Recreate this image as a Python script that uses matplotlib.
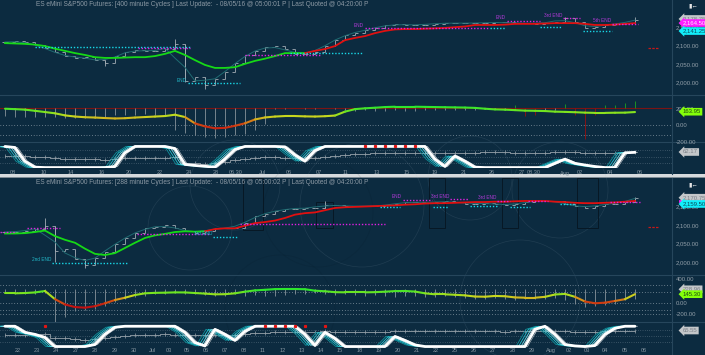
import numpy as np
import matplotlib.pyplot as plt
import matplotlib.transforms as mtransforms
from matplotlib.collections import LineCollection
from matplotlib.colors import LinearSegmentedColormap
from matplotlib.patches import Circle, Rectangle

plt.rcParams['font.family'] = ['Liberation Sans', 'DejaVu Sans']

BG = '#0c2b40'
W, H = 705, 355

# ---------------- top chart: 400 minute cycles (one value per bar) ----------------
top_title = ('ES eMini S&P500 Futures: [400 minute Cycles ] Last Update:  - 08/05/16 '
             '@ 05:00:01 P | Last Quoted @ 04:20:00 P')
top_close = [2110, 2112, 2110, 2102, 2093, 2082, 2071, 2068, 2069, 2062,
             2054, 2072, 2083, 2088, 2086, 2085, 2090, 2104, 2005, 2016,
             1994, 2010, 2028, 2053, 2074, 2086, 2097, 2098, 2090, 2078,
             2077, 2084, 2100, 2116, 2130, 2135, 2142, 2148, 2155, 2158,
             2156, 2156, 2157, 2160, 2161, 2161, 2161, 2161, 2162, 2163,
             2163, 2161, 2161, 2160, 2161, 2165, 2175, 2163, 2148, 2151,
             2156, 2159, 2161, 2169]
top_wicks = [(10, 2045, 2062), (17, 2100, 2118), (18, 2002, 2104), (20, 1982, 2016),
             (56, 2163, 2178), (63, 2160, 2177)]
top_ma = [2107, 2106, 2105, 2103, 2099, 2092, 2086, 2080, 2075, 2069,
          2067, 2067, 2068, 2069, 2069, 2072, 2078, 2086, 2075, 2061,
          2048, 2040, 2040, 2042, 2051, 2059, 2065, 2072, 2080, 2080,
          2080, 2086, 2091, 2099, 2115, 2121, 2126, 2134, 2140, 2144,
          2145, 2145, 2146, 2147, 2148, 2150, 2152, 2156, 2156, 2156,
          2157, 2159, 2159, 2159, 2160, 2161, 2161, 2161, 2159, 2156,
          2156, 2157, 2159, 2161]
top_ma_split = 30
top_osc = [200, 195, 189, 175, 160, 145, 120, 106, 98, 94,
           88, 83, 86, 94, 100, 106, 112, 128, 100, 24,
           -12, -35, -30, -5, 25, 71, 95, 106, 112, 112,
           108, 106, 110, 118, 165, 195, 205, 212, 220, 224,
           224, 224, 222, 220, 218, 216, 214, 210, 200, 192,
           189, 183, 177, 175, 172, 165, 162, 158, 153, 150,
           150, 152, 153, 160]
top_hist = [110, 100, 100, 105, 100, 95, 90, 88, 92, 90,
            100, 120, 130, 125, 140, 120, 120, -60, -90, -110,
            -140, -150, -145, -120, -100, -60, 20, 200, 200, 205,
            200, 200, 205, 200, 180, 175, 180, 170, 175, 180,
            178, 175, 180, 182, 185, 185, 188, 190, 195, 200,
            190, 250, 110, 120, 190, 180, 260, 120, -165, 130,
            250, 240, 265, 290]
top_hist_base = 210
top_cycle = [100, 95, 30, 2, 0, 0, 0, 0, 0, 0,
             0, 5, 70, 100, 100, 100, 100, 90, 15, 10,
             6, 2, 40, 85, 100, 100, 100, 100, 98, 60,
             30, 80, 100, 100, 100, 100, 100, 100, 100, 100,
             100, 100, 100, 40, 5, 55, 30, 2, 0, 0,
             0, 0, 0, 0, 0, 20, 40, 20, 12, 5,
             0, 0, 70, 72]
top_cycle_red = [36, 37, 38, 39, 40, 41]
# (start bar, end bar, price, colour key, label)
top_levels = [(3.0, 18.5, 2097, 'c', ''), (13.3, 18.5, 2093, 'm', ''),
              (18.3, 23.5, 1998, 'c', 'END'), (24.0, 31.5, 2075, 'm', ''),
              (28.5, 35.8, 2081, 'c', ''), (36.0, 48.3, 2147, 'm', 'END'),
              (48.5, 50.0, 2147, 'c', ''), (50.2, 53.5, 2168, 'm', 'END'),
              (53.5, 55.7, 2150, 'c', ''), (55.8, 57.5, 2174, 'm', '3rd END'),
              (57.8, 60.7, 2140, 'c', ''), (60.7, 63.3, 2160, 'm', '5th END')]
top_tags = [(2178.75, '2,178.75', 'g'), (2164.50, '2,164.50', 'm'), (2141.25, '2,141.25', 'c')]
top_osc_tags = [(163.95, '163.95', 'l')]
top_cyc_tag = '62.17'
top_dates = ['08', '10', '14', '16', '20', '22', '24', '28', '06.30', 'Jul', '06', '07',
             '11', '13', '15', '19', '21', '26', '27', '08.30', 'Aug', '02', '04', '06']
top_date_bars = [0.8, 3.9, 6.6, 9.7, 12.4, 15.5, 18.4, 21.1, 23.1, 25.7, 28.4, 31.4,
                 34.1, 37.2, 40.2, 43.0, 45.9, 48.7, 51.7, 52.9, 56.0, 57.5, 60.5, 63.5]
top_red_dash = 2094

# ---------------- bottom chart: 288 minute cycles ----------------
bot_title = ('ES eMini S&P500 Futures: [288 minute Cycles ] Last Update:  - 08/05/16 '
             '@ 05:00:02 P | Last Quoted @ 04:20:00 P')
bot_close = [2081, 2082, 2083, 2090, 2097, 2030, 2035, 2008, 1992, 2012,
             2028, 2050, 2066, 2078, 2092, 2095, 2099, 2093, 2084, 2078,
             2084, 2091, 2092, 2092, 2106, 2124, 2131, 2137, 2144, 2144,
             2146, 2146, 2155, 2153, 2151, 2151, 2151, 2151, 2153, 2157,
             2162, 2162, 2160, 2162, 2164, 2163, 2158, 2157, 2160, 2157,
             2153, 2156, 2162, 2164, 2166, 2164, 2158, 2151, 2146, 2152,
             2157, 2157, 2162, 2172]
bot_wicks = [(4, 2090, 2120), (5, 2001, 2097), (8, 1985, 2008), (32, 2146, 2165),
             (63, 2162, 2176)]
bot_ma = [2077, 2077, 2078, 2081, 2085, 2070, 2060, 2052, 2036, 2022,
          2019, 2024, 2038, 2052, 2065, 2072, 2076, 2081, 2083, 2082,
          2083, 2089, 2091, 2091, 2098, 2105, 2108, 2112, 2119, 2128,
          2132, 2134, 2140, 2146, 2148, 2149, 2150, 2151, 2152, 2153,
          2155, 2156, 2158, 2159, 2159, 2160, 2161, 2162, 2162, 2163,
          2163, 2164, 2165, 2165, 2165, 2163, 2162, 2160, 2159, 2159,
          2160, 2161, 2163, 2165]
bot_ma_split = 20
bot_osc = [160, 160, 165, 175, 200, 60, -30, -75, -85, -60,
           -10, 46, 85, 131, 160, 168, 171, 176, 175, 165,
           155, 143, 145, 160, 188, 210, 220, 232, 234, 234,
           230, 205, 195, 180, 177, 177, 177, 180, 188, 198,
           200, 190, 160, 143, 143, 135, 125, 105, 102, 115,
           110, 90, 85, 85, 100, 140, 150, 100, 20, -10,
           0, 30, 60, 145]
bot_hist = [170, 150, 150, 140, 160, -330, -250, -150, -120, -110,
            -60, 20, 60, 100, 120, 140, 150, 160, 150, 140,
            130, 120, 110, 150, 120, 130, 110, 120, 125, 140,
            150, 160, 150, 130, 140, 130, 120, 130, 110, 100,
            120, 110, 90, 100, 110, 90, 80, 60, 70, 80,
            60, 50, 60, 70, 60, 80, 50, -20, -80, -60,
            -40, -20, 40, 60]
bot_hist_base = 229
bot_cycle = [100, 100, 70, 60, 45, 0, 0, 0, 0, 10,
             60, 95, 100, 100, 100, 100, 100, 100, 70, 20,
             3, 85, 60, 30, 75, 100, 100, 100, 100, 100,
             60, 5, 70, 40, 0, 0, 0, 0, 0, 50,
             30, 8, 0, 0, 0, 0, 0, 0, 0, 0,
             0, 0, 0, 85, 100, 60, 10, 3, 0, 5,
             60, 90, 100, 100]
bot_cycle_red = [4, 26, 27, 28, 29, 30, 32]
bot_levels = [(-0.5, 1.0, 2082, 'm', ''), (2.2, 5.5, 2093, 'm', ''),
              (4.7, 12.2, 1997, 'c', '2nd END'), (13.2, 20.5, 2075, 'm', ''),
              (20.8, 23.3, 2068, 'c', '3rd END'), (23.5, 38.0, 2102, 'm', ''),
              (37.5, 39.5, 2148, 'c', ''), (39.8, 42.7, 2167, 'm', 'END'),
              (42.8, 44.3, 2149, 'c', ''), (44.5, 46.3, 2169, 'm', '3rd END'),
              (46.5, 49.2, 2152, 'c', ''), (49.2, 50.5, 2165, 'm', '3rd END'),
              (50.5, 52.5, 2148, 'c', ''), (52.3, 54.3, 2165, 'm', ''),
              (55.5, 57.0, 2156, 'c', ''), (60.5, 63.5, 2161, 'm', '')]
bot_tags = [(2170.75, '2,170.75', 'g'), (2159.50, '2,159.50', 'c')]
bot_osc_tags = [(228.96, '228.96', 'g'), (145.30, '145.30', 'l')]
bot_cyc_tag = '65.55'
bot_dates = ['22', '23', '24', '27', '28', '29', '30', 'Jul', '03', '05', '06', '07', '08',
             '11', '12', '13', '14', '15', '18', '19', '20', '21', '22', '25', '26', '27',
             '28', '29', 'Aug', '02', '03', '04', '05', '06']
bot_date_bars = [1.3, 3.2, 5.1, 7.1, 9.0, 11.0, 12.9, 14.7, 16.4, 18.2, 20.1, 22.0, 23.9,
                 25.8, 27.8, 29.7, 31.6, 33.5, 35.5, 37.4, 39.3, 41.2, 43.1, 45.0, 46.9,
                 48.8, 50.8, 52.7, 54.6, 56.4, 58.2, 60.0, 62.0, 63.9]
bot_red_dash = 2094

# ---------------- styling ----------------
TICK_C = '#93a0aa'
BAR_C = '#a3adb5'
MAG = '#e020e0'
CYA = '#18d8e8'
TAG_STYLE = {'g': ('#c4c7ca', '#7b8087'), 'm': ('#ff1cff', '#ffe8ff'),
             'c': ('#12eefa', '#0b4756'), 'l': ('#84ff0a', '#1d4a10')}
osc_cmap = LinearSegmentedColormap.from_list(
    'osc', [(0.0, '#c21010'), (0.28, '#d24a12'), (0.47, '#d8a41e'),
            (0.61, '#c8d81e'), (0.79, '#7ee41e'), (1.0, '#2ee62e')])
XLIM = (-0.5, 66.7)

fig = plt.figure(figsize=(W / 100, H / 100), dpi=100, facecolor=BG)

bg = fig.add_axes([0, 0, 1, 1], zorder=-1)
bg.set_xlim(0, W)
bg.set_ylim(H, 0)
bg.axis('off')
for y in (95, 142, 275, 322):
    bg.plot([0, W], [y, y], color='#26465c', lw=0.8)
bg.plot([672, 672], [0, 174], color='#26465c', lw=0.8)
bg.plot([672, 672], [178, H], color='#26465c', lw=0.8)
bg.add_patch(Rectangle((0, 174.2), W, 2.6, fc='#d6dadd', ec='none'))
bg.add_patch(Rectangle((0, 176.8), W, 1.0, fc='#7d8a94', ec='none'))
for cx, cy, r, c in [(235, 185, 45, '#9fb3c2'), (318, 212, 55, '#03121c'),
                     (470, 178, 42, '#9fb3c2'), (560, 190, 48, '#9fb3c2'),
                     (190, 228, 42, '#9fb3c2'), (362, 205, 62, '#9fb3c2'),
                     (520, 300, 60, '#9fb3c2'), (280, 310, 55, '#03121c')]:
    bg.add_patch(Circle((cx, cy), r, fill=False, ec=c, lw=0.5, alpha=0.13))
for x0, y0, x1, y1 in [(243, 178, 263, 230), (316, 202, 333, 228), (429, 178, 445, 228),
                       (502, 178, 518, 228), (577, 178, 598, 228)]:
    bg.add_patch(Rectangle((x0, y0), x1 - x0, y1 - y0, fill=False, ec='#071825', lw=0.7))


def pane(y0, y1):
    ax = fig.add_axes([0, 1 - y1 / H, 672 / W, (y1 - y0) / H])
    ax.set_facecolor('none')
    for s in ax.spines.values():
        s.set_visible(False)
    ax.set_xlim(*XLIM)
    ax.set_xticks([])
    ax.yaxis.tick_right()
    ax.tick_params(axis='y', length=0, pad=3, labelsize=4.3, labelcolor=TICK_C)
    return ax


def tag(ax, value, text, key, dy=0.0):
    fc, tc = TAG_STYLE[key]
    tr = mtransforms.blended_transform_factory(ax.transAxes, ax.transData)
    tr = mtransforms.offset_copy(tr, fig=fig, y=-dy * 0.72, units='points')
    ax.text(1.016, value, text, transform=tr, fontsize=4.3, color=tc, va='center',
            ha='left', clip_on=False, zorder=10,
            bbox=dict(boxstyle='larrow,pad=0.22', fc=fc, ec='none'))


def draw_price(ax, close, wicks, ma, split, levels, tags, shifts, red_dash):
    x = np.arange(len(close))
    close = np.asarray(close, float)
    opens = np.r_[close[0], close[:-1]]
    ax.vlines(x, np.minimum(opens, close), np.maximum(opens, close), color=BAR_C, lw=0.6)
    ax.hlines(opens, x - 0.32, x, color=BAR_C, lw=0.6)
    ax.hlines(close, x, x + 0.32, color=BAR_C, lw=0.6)
    for i, lo, hi in wicks:
        ax.vlines(i, lo, hi, color=BAR_C, lw=0.6)
    teal = np.convolve(close, np.ones(3) / 3, mode='same')
    teal[0], teal[-1] = close[0], close[-1]
    ax.plot(x, teal, color='#1f6b72', lw=0.7)
    ax.plot(x[:split + 1], ma[:split + 1], color='#16d916', lw=1.3)
    ax.plot(x[split:], ma[split:], color='#e01010', lw=1.3)
    for s, e, p, k, lab in levels:
        col = MAG if k == 'm' else CYA
        ax.plot([s, e], [p, p], color=col, lw=1.0, ls=(0, (1, 1.3)))
        if lab:
            ax.text(s - 0.1, p + 2, lab, fontsize=3.4, ha='right', va='bottom',
                    color='#b13ad8' if k == 'm' else '#22b8c8')
    ax.plot([64.3, 65.3], [red_dash, red_dash], color='#c81818', lw=0.9, ls=(0, (2, 1)),
            clip_on=False)
    for (v, t, k), dy in zip(tags, shifts):
        tag(ax, v, t, k, dy)


def draw_osc(ax, vals, hist, base, dotted, tags, colored_from=None):
    x = np.arange(len(vals))
    for v in dotted:
        ax.axhline(v, color='#b8c4cc', lw=0.5, ls=(0, (1, 3)))
    cols = []
    for i, h in enumerate(hist):
        if colored_from is not None and i >= colored_from and h > base + 20:
            cols.append('#1fa11f')
        elif colored_from is not None and i >= colored_from and h < base - 50:
            cols.append('#9b1010')
        else:
            cols.append('#87929a')
    ax.vlines(x, base, hist, colors=cols, lw=0.6)
    y = np.asarray(vals, float)
    pts = np.column_stack([x, y]).reshape(-1, 1, 2)
    segs = np.concatenate([pts[:-1], pts[1:]], axis=1)
    lc = LineCollection(segs, cmap=osc_cmap, norm=plt.Normalize(-60, 220), lw=1.5,
                        capstyle='round')
    lc.set_array((y[:-1] + y[1:]) / 2)
    ax.add_collection(lc)
    for v, t, k in tags:
        tag(ax, v, t, k)


def draw_cycle(ax, cycle, red, close, twin_lim, cyc_tag, dates, date_bars, pad):
    x = np.arange(len(cycle))
    for v in (82, 52, 24):
        ax.axhline(v, color='#8fa0ad', lw=0.4, ls=(0, (1, 3)))
    tw = ax.twinx()
    tw.set_facecolor('none')
    for s in tw.spines.values():
        s.set_visible(False)
    tw.plot(x, close, color='#98a3ab', lw=0.6, drawstyle='steps-mid')
    tw.plot(x, close, ls='none', marker='|', ms=2.2, mew=0.5, color='#98a3ab')
    tw.set_ylim(*twin_lim)
    tw.set_yticks([])
    tw.set_zorder(1)
    ax.set_zorder(2)
    for off, c in [(0.9, '#0f8f9a'), (0.65, '#1fc3cf'), (0.4, '#6fe0e8'), (0.2, '#c9eef2')]:
        ax.plot(x - off, cycle, color=c, lw=0.6)
    ax.plot(x + 0.25, cycle, color='#b0b8be', lw=0.5)
    ax.plot(x, cycle, color='white', lw=2.0, solid_capstyle='round')
    ax.plot(red, [100] * len(red), ls='none', marker='s', ms=1.3, color='#e01515')
    ax.set_yticks([])
    ax.set_xticks(date_bars)
    ax.set_xticklabels(dates)
    ax.tick_params(axis='x', length=0, pad=pad, labelsize=4.0, labelcolor='#8797a2')
    tag(tw, close[-1], cyc_tag, 'g')


# ---------------- top chart ----------------
fig.text(36 / W, 1 - 5 / H, top_title, fontsize=4.7, color='#8d9aa5', va='center')
fig.text(688 / W, 1 - 6 / H, '\u25ae\u2190', fontsize=4.5, color='#e8e8e8', va='center')
ax = pane(0, 95)
ax.set_ylim(1966.8, 2223.5)
ax.set_yticks([2000, 2050, 2100, 2150])
ax.set_yticklabels([f'{v:,.2f}' for v in [2000, 2050, 2100, 2150]])
draw_price(ax, top_close, top_wicks, top_ma, top_ma_split, top_levels, top_tags,
           [2.4, 1.2, 0.6], top_red_dash)
ax = pane(95, 142)
ax.set_ylim(-188, 365)
ax.set_yticks([-200, 0, 200])
ax.set_yticklabels(['-200.00', '0.00', '200.00'])
ax.axhline(top_hist_base, color='#7a1414', lw=0.8)
draw_osc(ax, top_osc, top_hist, top_hist_base, [0, -120, -200], top_osc_tags,
         colored_from=51)
ax = pane(142, 168)
ax.set_ylim(-2, 121)
draw_cycle(ax, top_cycle, top_cycle_red, top_close, (1940, 2312), top_cyc_tag,
           top_dates, top_date_bars, 1.8)

# ---------------- bottom chart ----------------
fig.text(36 / W, 1 - 183 / H, bot_title, fontsize=4.7, color='#8d9aa5', va='center')
fig.text(688 / W, 1 - 185 / H, '\u25ae\u2190', fontsize=4.5, color='#e8e8e8', va='center')
ax = pane(178, 275)
ax.set_ylim(1964.9, 2227.0)
ax.set_yticks([2000, 2050, 2100, 2150])
ax.set_yticklabels([f'{v:,.2f}' for v in [2000, 2050, 2100, 2150]])
# magenta tag mostly hidden behind the cyan one
ax.plot([1.012, 1.05], [2164.5, 2164.5], color='#ff1cff', lw=2.0, clip_on=False,
        transform=mtransforms.blended_transform_factory(ax.transAxes, ax.transData))
draw_price(ax, bot_close, bot_wicks, bot_ma, bot_ma_split, bot_levels, bot_tags,
           [-1.1, 1.0], bot_red_dash)
ax = pane(275, 322)
ax.set_ylim(-330, 473)
ax.set_yticks([-200, 0, 400])
ax.set_yticklabels(['-200.00', '0.00', '400.00'])
draw_osc(ax, bot_osc, bot_hist, bot_hist_base, [300, 190, 0, -120, -200], bot_osc_tags)
ax = pane(322, 347.5)
ax.set_ylim(-4.7, 121)
draw_cycle(ax, bot_cycle, bot_cycle_red, bot_close, (1845, 2336), bot_cyc_tag,
           bot_dates, bot_date_bars, 0.5)

fig.savefig('out.png', dpi=100, facecolor=BG)
